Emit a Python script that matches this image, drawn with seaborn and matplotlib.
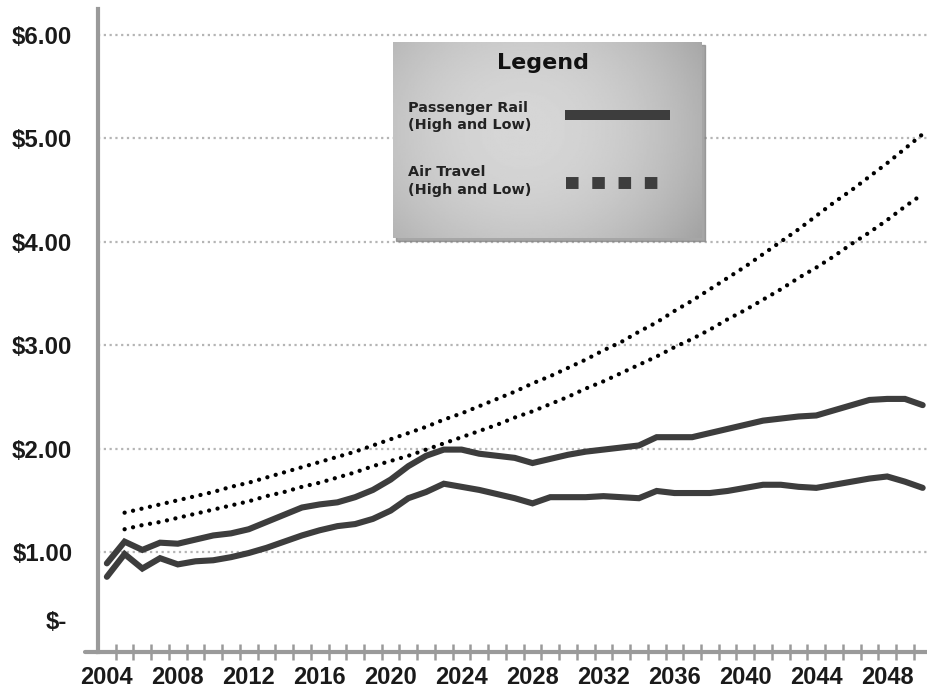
import matplotlib
matplotlib.use("Agg")
import matplotlib.pyplot as plt
from matplotlib.patches import Rectangle
import numpy as np
import pandas as pd
import seaborn as sns

# --- data (dollars per passenger-mile) ---
rail_years = list(range(2004, 2051))
rail_high = [0.89, 1.10, 1.02, 1.09, 1.08, 1.12, 1.16, 1.18, 1.22, 1.29,
             1.36, 1.43, 1.46, 1.48, 1.53, 1.60, 1.70, 1.83, 1.93, 1.99,
             1.99, 1.95, 1.93, 1.91, 1.86, 1.90, 1.94, 1.97, 1.99, 2.01,
             2.03, 2.11, 2.11, 2.11, 2.15, 2.19, 2.23, 2.27, 2.29, 2.31,
             2.32, 2.37, 2.42, 2.47, 2.48, 2.48, 2.42]
rail_low = [0.76, 0.98, 0.84, 0.94, 0.88, 0.91, 0.92, 0.95, 0.99, 1.04,
            1.10, 1.16, 1.21, 1.25, 1.27, 1.32, 1.40, 1.52, 1.58, 1.66,
            1.63, 1.60, 1.56, 1.52, 1.47, 1.53, 1.53, 1.53, 1.54, 1.53,
            1.52, 1.59, 1.57, 1.57, 1.57, 1.59, 1.62, 1.65, 1.65, 1.63,
            1.62, 1.65, 1.68, 1.71, 1.73, 1.68, 1.62]

air_years = list(range(2005, 2051))
air_high = [1.38, 1.42, 1.46, 1.50, 1.54, 1.58, 1.63, 1.67, 1.72, 1.77,
            1.82, 1.87, 1.92, 1.97, 2.03, 2.09, 2.15, 2.21, 2.28, 2.34,
            2.41, 2.48, 2.55, 2.63, 2.70, 2.78, 2.86, 2.95, 3.03, 3.13,
            3.22, 3.33, 3.43, 3.54, 3.65, 3.76, 3.88, 4.00, 4.12, 4.25,
            4.38, 4.50, 4.63, 4.76, 4.90, 5.04]
air_low = [1.22, 1.26, 1.29, 1.33, 1.37, 1.41, 1.45, 1.49, 1.54, 1.58,
           1.63, 1.67, 1.72, 1.77, 1.83, 1.88, 1.93, 1.99, 2.05, 2.11,
           2.17, 2.23, 2.30, 2.36, 2.43, 2.50, 2.58, 2.65, 2.73, 2.81,
           2.89, 2.98, 3.06, 3.15, 3.25, 3.34, 3.44, 3.54, 3.65, 3.75,
           3.86, 3.98, 4.09, 4.21, 4.34, 4.46]

y_ticks = [1, 2, 3, 4, 5, 6]
y_labels = ["$1.00", "$2.00", "$3.00", "$4.00", "$5.00", "$6.00"]
x_labels = list(range(2004, 2049, 4))

sns.set_theme(style="white")
TICK_FONT = ["Liberation Sans", "DejaVu Sans"]
RAIL = "#3d3d3d"
AXIS = "#9a9a9a"

rail = pd.DataFrame({"year": rail_years, "high": rail_high, "low": rail_low})
air = pd.DataFrame({"year": air_years, "high": air_high, "low": air_low})

fig = plt.figure(figsize=(9.28, 6.96), dpi=100)
ax = fig.add_axes([98 / 928, 1 - 652 / 696, 830 / 928, 643 / 696])

for col in ["high", "low"]:
    sns.lineplot(data=rail, x="year", y=col, ax=ax, color=RAIL,
                 linewidth=4.4, solid_joinstyle="miter", zorder=3)
    sns.lineplot(data=air, x="year", y=col, ax=ax, color="black",
                 linewidth=3.1, linestyle=(0, (0.01, 2.0)),
                 dash_capstyle="round", zorder=4)

ax.set_xlim(2003.5, 2050.3)
ax.set_ylim(0.033, 6.25)

# y axis: dotted grid + bold dollar labels
ax.set_yticks(y_ticks)
ax.set_yticklabels(y_labels)
ax.yaxis.grid(True, color="#b5b5b5", linestyle=(0, (1, 1.6)), linewidth=1.6)
ax.tick_params(axis="y", length=6.5, width=1.6, color="#b5b5b5", pad=12)
for lab in ax.get_yticklabels():
    lab.set_fontfamily(TICK_FONT)
    lab.set_fontweight("bold")
    lab.set_fontsize(17.3)
    lab.set_color("#1a1a1a")
ax.text(-0.037, 0.32, "$-", transform=ax.get_yaxis_transform(),
        ha="right", va="center", fontsize=17.3, fontweight="bold",
        family=TICK_FONT, color="#1a1a1a")

# x axis: labels centred on categories, tick marks between them
ax.set_xticks(x_labels)
ax.set_xticklabels([str(v) for v in x_labels])
ax.set_xticks(np.arange(2004.5, 2050.5, 1), minor=True)
ax.tick_params(axis="x", which="major", length=0, pad=10)
ax.tick_params(axis="x", which="minor", bottom=True, direction="inout",
               length=11, width=1.8, color=AXIS)
for lab in ax.get_xticklabels():
    lab.set_fontfamily(TICK_FONT)
    lab.set_fontweight("bold")
    lab.set_fontsize(17)
    lab.set_color("#1a1a1a")
ax.set_xlabel("")
ax.set_ylabel("")

for side in ["top", "right"]:
    ax.spines[side].set_visible(False)
for side in ["left", "bottom"]:
    ax.spines[side].set_color(AXIS)
    ax.spines[side].set_linewidth(3)
ax.axhline(0.033, xmin=-0.016, xmax=0, color=AXIS, linewidth=3, clip_on=False)

# --- legend panel with a grey gradient ---
shadow = Rectangle((396 / 928, 1 - 241 / 696), 309 / 928, 196 / 696,
                   transform=fig.transFigure, color="#808080", alpha=0.7,
                   zorder=5)
fig.patches.append(shadow)
lax = fig.add_axes([393 / 928, 1 - 238 / 696, 309 / 928, 196 / 696], zorder=6)
gx, gy = np.meshgrid(np.linspace(0, 1, 200), np.linspace(0, 1, 140))
shade = 0.84 - 0.42 * ((gx - 0.42) ** 2 + 0.5 * (gy - 0.55) ** 2)
lax.imshow(shade, cmap="gray", vmin=0, vmax=1, extent=[0, 1, 0, 1],
           aspect="auto", origin="lower")
lax.set_xlim(0, 1)
lax.set_ylim(0, 1)
lax.axis("off")

lax.text(0.485, 0.893, "Legend", ha="center", va="center", fontsize=16,
         fontweight="bold", color="#111111")
lax.text(0.049, 0.62, "Passenger Rail\n(High and Low)", ha="left", va="center",
         fontsize=10.4, fontweight="bold", color="#222222", linespacing=1.35)
lax.text(0.049, 0.29, "Air Travel\n(High and Low)", ha="left", va="center",
         fontsize=10.4, fontweight="bold", color="#222222", linespacing=1.35)
lax.plot([0.557, 0.896], [0.628, 0.628], color=RAIL, linewidth=7.2,
         solid_capstyle="butt")
lax.plot([0.56, 0.885], [0.281, 0.281], color=RAIL, linewidth=8.6,
         linestyle=(0, (1.05, 1.15)), dash_capstyle="butt")

fig.savefig("out.png", dpi=100)
